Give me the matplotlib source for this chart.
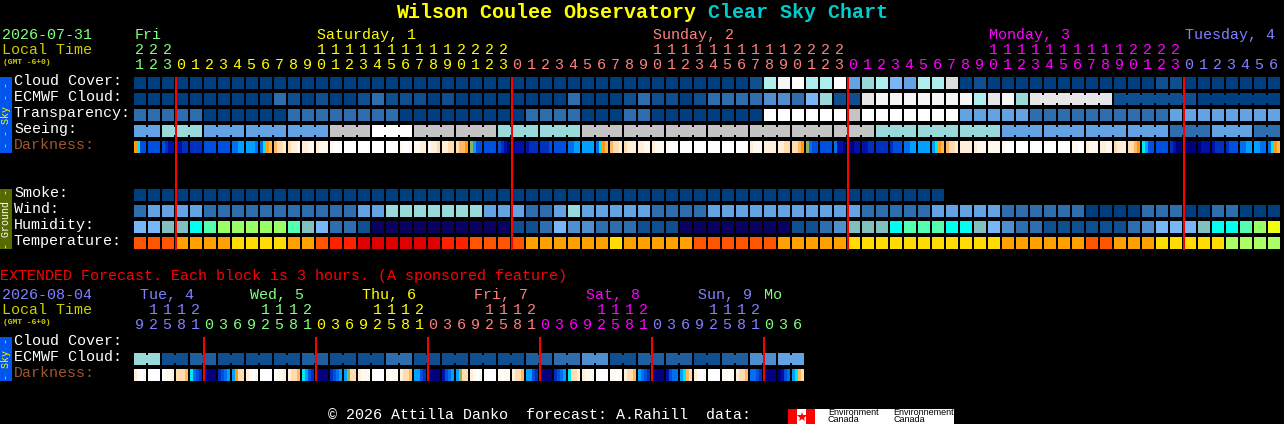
import matplotlib
matplotlib.use("Agg")
import matplotlib.pyplot as plt

# ---- main chart, one value per hour block (82 blocks) ----
hours = [21, 22, 23] + list(range(24)) * 3 + list(range(7))
hour_days = [0] * 3 + [1] * 24 + [2] * 24 + [3] * 24 + [4] * 7

cloud_cover = [0, 0, 0, 0, 0, 0, 0, 0, 0, 0,
               0, 0, 0, 0, 0, 0, 0, 0, 0, 0,
               0, 0, 0, 0, 0, 0, 0, 0, 0, 0,
               0, 0, 0, 0, 0, 0, 0, 0, 0, 0,
               0, 0, 0, 0, 1, 8, 12, 13, 8, 8,
               13, 5, 7, 8, 6, 5, 8, 8, 10, 0,
               1, 0, 0, 0, 0, 0, 0, 0, 0, 0,
               0, 0, 0, 1, 1, 0, 0, 0, 0, 0,
               0, 0]
ecmwf_cloud = [0, 0, 0, 0, 0, 0, 0, 0, 0, 0,
               3, 1, 0, 1, 0, 0, 1, 3, 1, 1,
               1, 0, 1, 0, 0, 0, 0, 0, 0, 0,
               0, 3, 0, 0, 0, 1, 3, 1, 1, 0,
               1, 3, 3, 3, 3, 4, 4, 3, 6, 7,
               1, 1, 11, 12, 12, 12, 12, 12, 12, 12,
               8, 11, 12, 7, 11, 11, 11, 11, 11, 11,
               1, 1, 1, 1, 1, 1, 0, 0, 0, 0,
               0, 0]
transparency = [3, 3, 3, 3, 3, 0, 0, 0, 0, 0,
                0, 3, 3, 3, 3, 3, 3, 3, 3, 0,
                0, 0, 0, 0, 0, 0, 0, 0, 3, 3,
                3, 3, 0, 0, 0, 3, 3, 0, 0, 0,
                0, 0, 0, 0, 0, 13, 13, 13, 13, 13,
                13, 9, 13, 13, 13, 13, 13, 13, 13, 5,
                5, 5, 5, 5, 3, 3, 3, 3, 3, 3,
                3, 3, 3, 3, 5, 5, 5, 5, 5, 5,
                5, 5]
seeing = [5, 5, 7, 7, 7, 5, 5, 5, 5, 5,
          5, 5, 5, 5, 9, 9, 9, 13, 13, 13,
          9, 9, 9, 9, 9, 9, 7, 7, 7, 7,
          7, 7, 9, 9, 9, 9, 9, 9, 9, 9,
          9, 9, 9, 9, 9, 9, 9, 9, 9, 9,
          9, 9, 9, 7, 7, 7, 7, 7, 7, 7,
          7, 7, 5, 5, 5, 5, 5, 5, 5, 5,
          5, 5, 5, 5, 3, 3, 3, 5, 5, 5,
          3, 3]
smoke = [0] * 58
wind = [3, 5, 5, 5, 5, 3, 3, 3, 3, 3,
        3, 3, 3, 3, 3, 3, 5, 5, 7, 7,
        7, 7, 7, 7, 7, 5, 5, 5, 3, 3,
        5, 7, 5, 5, 5, 5, 5, 3, 3, 3,
        3, 5, 5, 5, 5, 5, 5, 5, 5, 5,
        5, 5, 3, 3, 3, 3, 3, 5, 5, 5,
        5, 5, 3, 3, 3, 3, 3, 3, 0, 0,
        0, 0, 3, 3, 3, 0, 0, 3, 3, 0,
        0, 0]
humidity = [4, 4, 5, 5, 6, 7, 8, 8, 8, 8,
            8, 7, 5, 4, 2, 2, 1, 0, 0, 0,
            0, 0, 0, 0, 0, 0, 0, 1, 1, 2,
            4, 3, 3, 2, 2, 2, 1, 1, 1, 0,
            0, 0, 0, 0, 0, 0, 0, 1, 1, 2,
            3, 5, 5, 5, 6, 7, 7, 7, 6, 6,
            5, 4, 3, 2, 2, 1, 1, 1, 1, 1,
            1, 2, 3, 4, 4, 4, 5, 6, 6, 7,
            8, 9]
temperature = [2, 2, 2, 3, 3, 3, 3, 4, 4, 4,
               4, 3, 3, 2, 1, 1, 0, 0, 0, 0,
               0, 0, 1, 1, 2, 2, 2, 2, 3, 3,
               3, 3, 3, 3, 4, 3, 3, 3, 3, 3,
               2, 2, 2, 2, 2, 2, 3, 3, 3, 3,
               3, 4, 4, 4, 4, 4, 4, 4, 4, 4,
               4, 4, 3, 3, 3, 3, 3, 3, 2, 2,
               3, 3, 3, 4, 4, 4, 4, 4, 5, 5,
               5, 5]
# darkness: four readings across each block
darkness = [
    [5, 7, 10, 10], [10, 10, 10, 10], [10, 11, 12, 12], [12, 12, 11, 11], [11, 11, 11, 11],
    [10, 10, 10, 10], [10, 10, 10, 10], [9, 9, 8, 8], [8, 8, 8, 9], [9, 7, 5, 4],
    [4, 3, 3, 2], [3, 2, 2, 1], [2, 2, 1, 1], [2, 1, 1, 1], [1, 0, 0, 0],
    [0, 0, 0, 0], [0, 0, 0, 0], [0, 0, 0, 0], [0, 0, 0, 0], [1, 0, 0, 1],
    [1, 1, 2, 2], [1, 2, 2, 3], [2, 2, 3, 3], [3, 4, 4, 5], [6, 8, 10, 10],
    [10, 10, 10, 10], [10, 11, 12, 13], [13, 12, 12, 12], [12, 11, 11, 11], [11, 11, 11, 10],
    [10, 10, 10, 10], [9, 9, 8, 8], [8, 8, 8, 8], [9, 7, 5, 4], [4, 3, 3, 2],
    [3, 2, 2, 2], [2, 2, 1, 1], [2, 1, 1, 1], [1, 0, 0, 0], [0, 0, 0, 0],
    [0, 0, 0, 0], [0, 0, 0, 0], [0, 0, 0, 0], [0, 0, 0, 0], [2, 1, 1, 1],
    [2, 2, 2, 2], [2, 2, 3, 3], [3, 3, 4, 5], [6, 9, 10, 10], [10, 10, 10, 10],
    [9, 12, 12, 13], [13, 13, 12, 12], [12, 12, 11, 11], [11, 11, 11, 11], [11, 10, 10, 10],
    [9, 9, 8, 8], [8, 8, 8, 8], [8, 7, 5, 4], [4, 3, 3, 2], [2, 2, 2, 2],
    [2, 1, 1, 1], [1, 1, 1, 1], [1, 0, 0, 0], [0, 0, 0, 0], [0, 0, 0, 0],
    [0, 0, 0, 0], [0, 0, 0, 0], [1, 1, 0, 0], [2, 1, 1, 1], [2, 2, 1, 1],
    [3, 2, 2, 2], [3, 3, 4, 5], [7, 8, 10, 10], [10, 10, 10, 10], [11, 12, 13, 13],
    [13, 13, 13, 13], [13, 12, 12, 12], [12, 11, 11, 11], [11, 10, 10, 10], [9, 9, 8, 8],
    [8, 8, 9, 9], [9, 7, 5, 4],
]
day_names = ["Fri", "Saturday, 1", "Sunday, 2", "Monday, 3", "Tuesday, 4"]
day_label_blocks = [0, 13, 37, 61, 75]

# ---- extended forecast, one value per 3 hour block (48 blocks) ----
ext_hours = [9, 12, 15, 18, 21] + [0, 3, 6, 9, 12, 15, 18, 21] * 5 + [0, 3, 6]
ext_hour_days = [4] * 5 + [0] * 8 + [1] * 8 + [2] * 8 + [3] * 8 + [4] * 8 + [0] * 3
ext_ecmwf = [7, 7, 1, 1, 2, 2, 1, 1, 1, 1,
             1, 1, 2, 2, 1, 1, 1, 1, 3, 3,
             1, 1, 1, 1, 1, 1, 1, 1, 2, 2,
             3, 3, 4, 4, 1, 1, 2, 2, 2, 2,
             1, 1, 2, 2, 4, 4, 5, 5]
ext_darkness = [
    [2, 1, 0, 1], [0, 0, 0, 0], [0, 1, 1, 2], [3, 3, 3, 4], [7, 9, 10, 11], [12, 13, 13, 13],
    [11, 10, 9, 8], [8, 5, 3, 3], [2, 1, 0, 1], [0, 0, 0, 0], [0, 1, 1, 2], [2, 3, 3, 4],
    [7, 8, 10, 11], [13, 13, 13, 13], [11, 10, 9, 8], [8, 6, 3, 3], [2, 1, 1, 1], [0, 0, 0, 0],
    [1, 0, 1, 1], [2, 3, 3, 4], [8, 8, 10, 11], [13, 13, 13, 13], [12, 10, 9, 8], [8, 6, 3, 3],
    [2, 1, 0, 1], [0, 0, 0, 0], [1, 0, 1, 1], [2, 3, 3, 4], [8, 8, 10, 11], [13, 13, 13, 13],
    [11, 10, 9, 8], [7, 3, 3, 2], [2, 1, 1, 1], [0, 0, 0, 0], [1, 1, 0, 1], [2, 3, 3, 4],
    [8, 9, 10, 11], [13, 13, 13, 13], [12, 10, 9, 9], [8, 7, 4, 3], [2, 1, 0, 1], [0, 0, 0, 0],
    [1, 1, 0, 1], [2, 3, 3, 4], [9, 9, 10, 11], [13, 13, 13, 13], [13, 12, 10, 9], [8, 7, 4, 3],
]
ext_day_names = ["Tue, 4", "Wed, 5", "Thu, 6", "Fri, 7", "Sat, 8", "Sun, 9", "Mo"]
ext_day_colors = [4, 0, 1, 2, 3, 4, 0]
ext_day_blocks = [0, 8, 16, 24, 32, 40, 45]

# palettes
sky_colors = ["#003f7f", "#0f4f8f", "#1f5f9f", "#2e6eae", "#4f8fcf", "#63a3e3", "#77b7f7",
              "#99d9d9", "#aeeeee", "#c4c4c4", "#dcdcdc", "#e6e6e6", "#f5f5f5", "#ffffff"]
humidity_colors = ["#0a0060", "#0f4f8f", "#2e6eae", "#4f8fcf", "#77b7f7",
                   "#82bfbf", "#00ffee", "#55ffb0", "#99ff66", "#eeff11"]
temp_colors = ["#e00000", "#ff2200", "#ff5500", "#ffa000", "#ffdd00", "#aaff66"]
dark_colors = ["#ffffff", "#fff8ee", "#ffeed8", "#ffdcb0", "#ffb860", "#ff9a10", "#90b060",
               "#00e8f0", "#00a0ff", "#0070f0", "#0050e0", "#0030c0", "#0010a8", "#000080"]
day_colors = ["#80ff80", "#ffff00", "#ff8080", "#ff00ff", "#8080ff"]

x0 = 134
pitch = 14
block = 12
mono = "Liberation Mono"
PX = 0.72  # points per pixel at dpi 100

fig = plt.figure(figsize=(12.84, 4.24), dpi=100, facecolor="black")
ax = fig.add_axes([0, 0, 1, 1])
ax.set_xlim(0, 1284)
ax.set_ylim(424, 0)
ax.axis("off")


def label(x, y, s, color="white", px=15, **kw):
    kw.setdefault("ha", "left")
    kw.setdefault("va", "center")
    ax.text(x, y, s, color=color, fontsize=px * PX, family=mono, **kw)


def draw_row(values, colors, y, joins=()):
    xs = [x0 + pitch * i for i in range(len(values))]
    ax.bar(xs, block, width=block, bottom=y, align="edge", linewidth=0, antialiased=False,
           color=[colors[v] for v in values])
    # blocks of one forecast period are joined by a narrower neck
    for first, last in joins:
        for i in range(first, last):
            ax.bar(x0 + pitch * i + block, 8, width=2, bottom=y + 2, align="edge", linewidth=0,
                   antialiased=False, color=colors[values[i]])


def draw_darkness(values, y):
    for i, readings in enumerate(values):
        xs = [x0 + pitch * i + 3 * j for j in range(4)]
        ax.bar(xs, block, width=3, bottom=y, align="edge", linewidth=0, antialiased=False,
               color=[dark_colors[v] for v in readings])


def draw_hours(hrs, days, tens_y, ones_y):
    for i, (h, d) in enumerate(zip(hrs, days)):
        cx = x0 + pitch * i + 5
        if h >= 10:
            label(cx, tens_y, str(h // 10), day_colors[d], ha="center")
        label(cx, ones_y, str(h % 10), day_colors[d], ha="center")


def side_box(y0, y1, color, text, text_color):
    ax.bar(0, y1 - y0, width=12, bottom=y0, align="edge", linewidth=0, color=color, antialiased=False)
    ax.text(6, (y0 + y1) / 2, text, color=text_color, fontsize=10 * PX, family=mono,
            rotation=90, ha="center", va="center")


# title
label(396, 12, "Wilson Coulee Observatory", "#ffff00", px=20, fontweight="bold")
label(708, 12, "Clear Sky Chart", "#00cccc", px=20, fontweight="bold")

# header of the main chart
label(2, 35, "2026-07-31", day_colors[0])
label(2, 50, "Local Time", "#cccc00")
label(3, 62, "(GMT -6+0)", "#cccc00", px=8, fontweight="bold")
for name, b, c in zip(day_names, day_label_blocks, day_colors):
    label(x0 + pitch * b + 1, 35, name, c)
draw_hours(hours, hour_days, 50, 65)

# row labels
for y, s in zip([81, 97, 113, 129], ["Cloud Cover:", "ECMWF Cloud:", "Transparency:", "Seeing:"]):
    label(14, y, s)
label(14, 145, "Darkness:", "#a0562c")
for y, s in zip([193, 209, 225, 241], ["Smoke:", "Wind:", "Humidity:", "Temperature:"]):
    label(14, y, s)
side_box(77, 153, "#0055ee", "- - Sky - -", "#ffff00")
side_box(189, 249, "#556b00", "- Ground -", "white")

# main rows
seeing_joins = [(0, 1)] + [(i, i + 2) for i in range(2, 80, 3)] + [(80, 81)]
ecmwf_joins = [(64, 69), (70, 75), (76, 81)]
draw_row(cloud_cover, sky_colors, 77)
draw_row(ecmwf_cloud, sky_colors, 93, ecmwf_joins)
draw_row(transparency, sky_colors, 109)
draw_row(seeing, sky_colors, 125, seeing_joins)
draw_darkness(darkness, 141)
draw_row(smoke, sky_colors, 189)
draw_row(wind, sky_colors, 205)
draw_row(humidity, humidity_colors, 221)
draw_row(temperature, temp_colors, 237)

midnight = [x0 + pitch * i for i, h in enumerate(hours) if h == 0]
ax.bar(midnight, 173, width=2, bottom=77, color="#ff0000", linewidth=0, antialiased=False)

# extended forecast
label(0, 276, "EXTENDED Forecast. Each block is 3 hours. (A sponsored feature)", "#ff0000")
label(2, 295, "2026-08-04", day_colors[4])
label(2, 310, "Local Time", "#cccc00")
label(3, 322, "(GMT -6+0)", "#cccc00", px=8, fontweight="bold")
for name, b, c in zip(ext_day_names, ext_day_blocks, ext_day_colors):
    offset = 6 if b == 0 else (0 if name == "Mo" else 4)
    label(x0 + pitch * b + offset, 295, name, day_colors[c])
draw_hours(ext_hours, ext_hour_days, 310, 325)
label(14, 341, "Cloud Cover:")
label(14, 357, "ECMWF Cloud:")
label(14, 373, "Darkness:", "#a0562c")
side_box(337, 381, "#0055ee", "- Sky -", "#ffff00")
draw_row(ext_ecmwf, sky_colors, 353, [(i, i + 1) for i in range(0, 48, 2)])
draw_darkness(ext_darkness, 369)
ext_midnight = [x0 + pitch * i for i, h in enumerate(ext_hours) if h == 0]
ax.bar(ext_midnight[:6], 44, width=2, bottom=337, color="#ff0000", linewidth=0, antialiased=False)

# footer and logo
label(328, 415, "\u00a9 2026 Attilla Danko  forecast: A.Rahill  data:")
ax.bar(788, 15, width=166, bottom=409, align="edge", color="white", linewidth=0, antialiased=False)
ax.bar([788, 806], 15, width=9, bottom=409, align="edge", color="#ff0000", linewidth=0, antialiased=False)
ax.plot([801.5], [416.5], marker="*", markersize=7, color="#ff0000", markeredgewidth=0)
for x, word in zip([828, 893], ["Environment", "Environnement"]):
    ax.text(x, 412.5, word, color="black", fontsize=9 * PX, family="Liberation Sans", va="center")
    ax.text(x, 420, "Canada", color="black", fontsize=9 * PX, family="Liberation Sans", va="center")

fig.savefig("out.png", dpi=100, facecolor="black")
